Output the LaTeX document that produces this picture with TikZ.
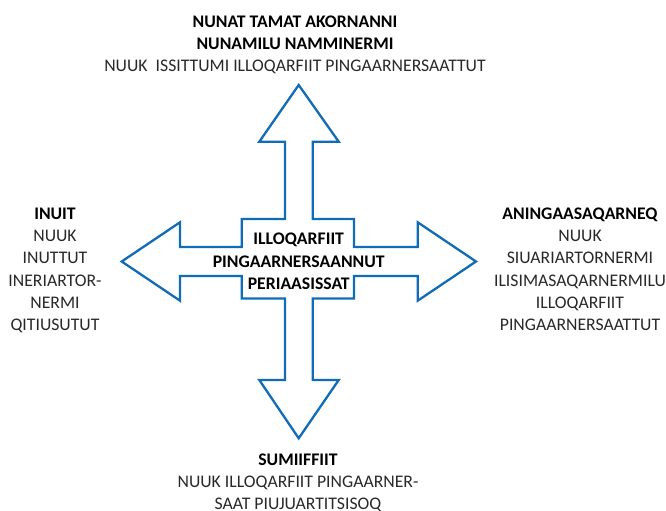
\documentclass[tikz,border=0pt]{standalone}
\usepackage{fontspec}
\setmainfont{Carlito}
\definecolor{crossblue}{RGB}{16,108,184}
\definecolor{txtgray}{RGB}{40,40,40}
\begin{document}
\begin{tikzpicture}[x=1bp,y=-1bp,
  lbl/.style={align=center,inner sep=0pt,anchor=base,text=txtgray,
    font=\fontsize{17.7bp}{22bp}\selectfont},
  crossline/.style={draw=crossblue,line width=2.3bp,line join=miter}]
\useasboundingbox (0,0) rectangle (666,511);
% cross of four arrows
\draw[crossline]
  (298.7,85) -- (338.7,141.7) -- (312.7,141.7) -- (312.7,219) -- (354,219)
  -- (354,247) -- (417.7,247) -- (417.7,222.3) -- (476,261.5) -- (417.7,300.7)
  -- (417.7,276) -- (354,276) -- (354,298.5) -- (312.7,298.5) -- (312.7,380)
  -- (338.7,380) -- (298.7,438.3) -- (259.3,380) -- (285,380) -- (285,298.5)
  -- (241.7,298.5) -- (241.7,276) -- (180,276) -- (180,300.7) -- (121.7,261.5)
  -- (180,222.3) -- (180,247) -- (241.7,247) -- (241.7,219) -- (285,219)
  -- (285,141.7) -- (259.3,141.7) -- cycle;
% labels (anchor = baseline of the last line)
\node[lbl] (top) at (295,71.5) {\textbf{\color{black}NUNAT TAMAT AKORNANNI}\\
  \textbf{\color{black}NUNAMILU NAMMINERMI}\\NUUK\ \ ISSITTUMI ILLOQARFIIT PINGAARNERSAATTUT};
\node[lbl] (left) at (55,330) {\textbf{\color{black}INUIT}\\NUUK\\INUTTUT\\INERIARTOR-\\NERMI\\QITIUSUTUT};
\node[lbl] (right) at (580,330) {\textbf{\color{black}ANINGAASAQARNEQ}\\NUUK\\SIUARIARTORNERMI\\ILISIMASAQARNERMILU\\ILLOQARFIIT\\PINGAARNERSAATTUT};
\node[lbl] (bottom) at (298,509) {\textbf{\color{black}SUMIIFFIIT}\\NUUK ILLOQARFIIT PINGAARNER-\\SAAT PIUJUARTITSISOQ};
\node[lbl,font=\bfseries\fontsize{17.7bp}{22bp}\selectfont,text=black] (center) at (298.7,289) {ILLOQARFIIT\\PINGAARNERSAANNUT\\PERIAASISSAT};
\end{tikzpicture}
\end{document}
